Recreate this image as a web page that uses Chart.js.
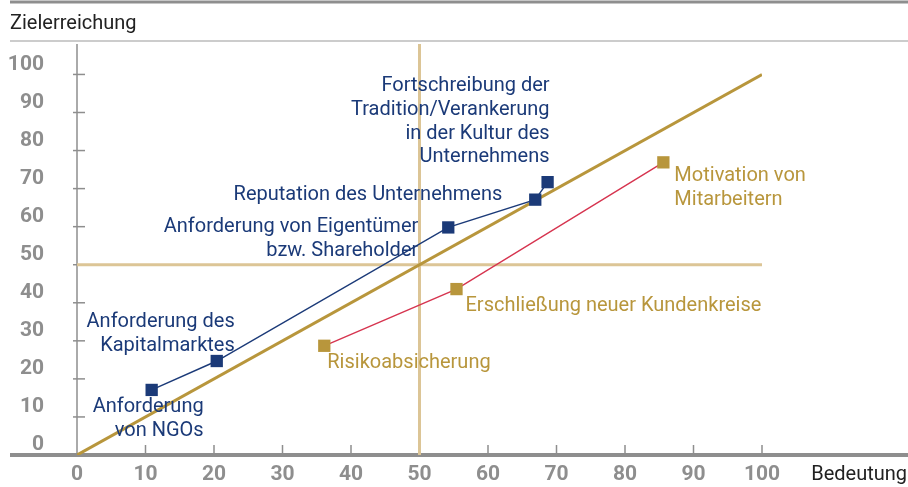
<!DOCTYPE html>
<html lang="de">
<head>
  <meta charset="UTF-8">
  <title>Zielerreichung / Bedeutung</title>
  <script src="https://cdn.jsdelivr.net/npm/chart.js"></script>
  <style>
    html, body { margin: 0; padding: 0; background: #fff; }
    .grafico { width: 908px; height: 487px; }
  </style>
</head>
<body>
  <div class="grafico">
    <canvas id="id_grafico"></canvas>
  </div>

<script>
// --- Daten ---
const blauNamen = [
  ['Anforderung', 'von NGOs'],
  ['Anforderung des', 'Kapitalmarktes'],
  ['Anforderung von Eigentümer', 'bzw. Shareholder'],
  ['Reputation des Unternehmens'],
  ['Fortschreibung der', 'Tradition/Verankerung', 'in der Kultur des', 'Unternehmens']
];
const blauBedeutung = [10.9, 20.4, 54.2, 66.9, 68.7];
const blauZiel = [17.1, 24.7, 59.8, 67.1, 71.7];

const goldNamen = [
  ['Risikoabsicherung'],
  ['Erschließung neuer Kundenkreise'],
  ['Motivation von', 'Mitarbeitern']
];
const goldBedeutung = [36.1, 55.4, 85.6];
const goldZiel = [28.7, 43.6, 76.9];

const diagonaleX = [0, 100];
const diagonaleY = [0, 100];
const mitteX = 50;
const mitteY = 50;

const xTicks = [0, 10, 20, 30, 40, 50, 60, 70, 80, 90, 100];
const yTicks = [0, 10, 20, 30, 40, 50, 60, 70, 80, 90, 100];

const titelY = 'Zielerreichung';
const titelX = 'Bedeutung';

// --- Farben / Stil ---
const navy = '#1b3a78';
const gold = '#b8963c';
const hellgold = '#dcc596';
const rot = '#d6344f';
const grau = '#8e8e8e';
const schrift = 'Roboto, "Open Sans", sans-serif';

function punkte(xs, ys) {
  var p = [];
  for (var i = 0; i < xs.length; i++) p.push({ x: xs[i], y: ys[i] });
  return p;
}

// Beschriftung relativ zum Punkt (px): dx, dy der ersten Zeile, Ausrichtung
const blauLayout = [
  { dx: 52, dy: 17, align: 'right' },
  { dx: 18, dy: -39, align: 'right' },
  { dx: -30, dy: 0, align: 'right' },
  { dx: -33, dy: -5, align: 'right' },
  { dx: 2, dy: -96, align: 'right' }
];
const goldLayout = [
  { dx: 3, dy: 17, align: 'left' },
  { dx: 9, dy: 17, align: 'left' },
  { dx: 11, dy: 14, align: 'left' }
];

const rahmenPlugin = {
  id: 'rahmen',
  beforeDatasetsDraw(chart) {
    const ctx = chart.ctx;
    const xs = chart.scales.x, ys = chart.scales.y;
    const x0 = xs.getPixelForValue(0);
    const y0 = ys.getPixelForValue(0);
    ctx.save();
    // obere Linien
    ctx.strokeStyle = grau;
    ctx.lineWidth = 3;
    ctx.beginPath(); ctx.moveTo(10, 2); ctx.lineTo(908, 2); ctx.stroke();
    ctx.lineWidth = 1.2;
    ctx.strokeStyle = '#9a9a9a';
    ctx.beginPath(); ctx.moveTo(10, 41); ctx.lineTo(908, 41); ctx.stroke();
    // y-Titel
    ctx.fillStyle = '#222';
    ctx.font = '20px ' + schrift;
    ctx.textAlign = 'left';
    ctx.textBaseline = 'middle';
    ctx.fillText(titelY, 10, 24);
    // y-Achse
    ctx.strokeStyle = grau;
    ctx.lineWidth = 1.5;
    ctx.beginPath(); ctx.moveTo(x0, chart.chartArea.top); ctx.lineTo(x0, y0); ctx.stroke();
    ctx.font = 'bold 21px ' + schrift;
    ctx.fillStyle = grau;
    ctx.textAlign = 'right';
    yTicks.forEach(function (v) {
      var py = ys.getPixelForValue(v);
      if (v > 0) {
        ctx.beginPath(); ctx.moveTo(x0 - 4, py); ctx.lineTo(x0 + 8, py); ctx.stroke();
      }
      ctx.fillText(String(v), 44, py - 10);
    });
    // x-Achse
    ctx.textAlign = 'center';
    xTicks.forEach(function (v) {
      var px = xs.getPixelForValue(v);
      if (v > 0) {
        ctx.beginPath(); ctx.moveTo(px, y0 - 10); ctx.lineTo(px, y0); ctx.stroke();
      }
      ctx.fillText(String(v), px, 475);
    });
    ctx.lineWidth = 4;
    ctx.beginPath(); ctx.moveTo(10, y0); ctx.lineTo(908, y0); ctx.stroke();
    ctx.fillStyle = '#222';
    ctx.font = '20px ' + schrift;
    ctx.textAlign = 'right';
    ctx.fillText(titelX, 907, 475);
    ctx.restore();
  },
  afterDatasetsDraw(chart) {
    const ctx = chart.ctx;
    const xs = chart.scales.x, ys = chart.scales.y;
    ctx.save();
    ctx.font = '20px ' + schrift;
    ctx.textBaseline = 'middle';
    function schreibe(namen, bx, by, layout, farbe) {
      ctx.fillStyle = farbe;
      for (var i = 0; i < namen.length; i++) {
        var px = xs.getPixelForValue(bx[i]);
        var py = ys.getPixelForValue(by[i]);
        var l = layout[i];
        ctx.textAlign = l.align;
        for (var j = 0; j < namen[i].length; j++) {
          ctx.fillText(namen[i][j], px + l.dx, py + l.dy + j * 23.7);
        }
      }
    }
    schreibe(blauNamen, blauBedeutung, blauZiel, blauLayout, navy);
    schreibe(goldNamen, goldBedeutung, goldZiel, goldLayout, gold);
    ctx.restore();
  }
};

const ctx = document.getElementById('id_grafico').getContext('2d');
var grafico = new Chart(ctx, {
  type: 'scatter',
  data: {
    datasets: [
      {
        label: 'blau',
        data: punkte(blauBedeutung, blauZiel),
        showLine: true,
        borderColor: navy,
        borderWidth: 1.4,
        backgroundColor: navy,
        pointStyle: 'rect',
        pointRadius: 8.7,
        pointBorderWidth: 0
      },
      {
        label: 'gold',
        data: punkte(goldBedeutung, goldZiel),
        showLine: true,
        borderColor: rot,
        borderWidth: 1.4,
        backgroundColor: gold,
        pointBackgroundColor: gold,
        pointStyle: 'rect',
        pointRadius: 8.7,
        pointBorderWidth: 0
      },
      {
        label: 'diagonale',
        data: punkte(diagonaleX, diagonaleY),
        showLine: true,
        borderColor: gold,
        borderWidth: 3,
        pointRadius: 0
      },
      {
        label: 'mitteX',
        data: [{ x: mitteX, y: 0 }, { x: mitteX, y: 108 }],
        showLine: true,
        borderColor: hellgold,
        borderWidth: 3,
        pointRadius: 0
      },
      {
        label: 'mitteY',
        data: [{ x: 0, y: mitteY }, { x: 100, y: mitteY }],
        showLine: true,
        borderColor: hellgold,
        borderWidth: 3,
        pointRadius: 0
      }
    ]
  },
  options: {
    responsive: true,
    maintainAspectRatio: false,
    animation: false,
    layout: { padding: { left: 77, right: 146, top: 44, bottom: 32 } },
    plugins: {
      legend: { display: false },
      tooltip: { enabled: false }
    },
    scales: {
      x: { type: 'linear', min: 0, max: 100, display: false },
      y: { type: 'linear', min: 0, max: 108, display: false }
    }
  },
  plugins: [rahmenPlugin]
});
</script>
</body>
</html>
